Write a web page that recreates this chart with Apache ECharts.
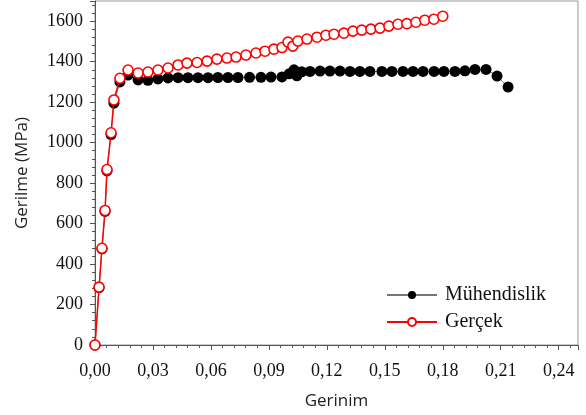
<!DOCTYPE html>
<html>
<head>
<meta charset="utf-8">
<script src="https://cdn.jsdelivr.net/npm/echarts@6/dist/echarts.min.js"></script>
<style>html,body{margin:0;padding:0;background:#fff}#c{width:586px;height:415px}</style>
</head>
<body>
<div id="c"></div>
<script>
// Engineering (Mühendislik) stress-strain
const engX = [0, 0.0021, 0.0036, 0.0052, 0.0062, 0.0083, 0.0098, 0.0129, 0.0171, 0.0223, 0.0274, 0.0326, 0.0378, 0.0430, 0.0481, 0.0533, 0.0585, 0.0636, 0.0688, 0.0740, 0.0800, 0.0859, 0.0911, 0.0968, 0.1005, 0.1030, 0.1045, 0.1070, 0.1113, 0.1165, 0.1216, 0.1268, 0.1320, 0.1371, 0.1423, 0.1485, 0.1537, 0.1594, 0.1646, 0.1698, 0.1755, 0.1806, 0.1863, 0.1915, 0.1967, 0.2024, 0.2081, 0.2138];
const engY = [0, 283, 475, 660, 860, 1040, 1195, 1300, 1334, 1310, 1308, 1315, 1320, 1321, 1321, 1321, 1321, 1322, 1322, 1322, 1323, 1323, 1324, 1325, 1340, 1360, 1330, 1350, 1352, 1354, 1354, 1354, 1352, 1352, 1352, 1352, 1352, 1352, 1352, 1352, 1352, 1352, 1352, 1355, 1362, 1362, 1329, 1275];
// True (Gerçek) stress-strain
const trueX = [0, 0.0021, 0.0036, 0.0052, 0.0062, 0.0083, 0.0098, 0.0129, 0.0171, 0.0223, 0.0274, 0.0326, 0.0378, 0.0430, 0.0476, 0.0528, 0.0580, 0.0631, 0.0683, 0.0730, 0.0781, 0.0833, 0.0880, 0.0926, 0.0968, 0.0999, 0.1024, 0.1050, 0.1097, 0.1149, 0.1195, 0.1237, 0.1288, 0.1335, 0.1381, 0.1428, 0.1475, 0.1521, 0.1568, 0.1614, 0.1661, 0.1707, 0.1754, 0.1800];
const trueY = [0, 286, 478, 665, 867, 1049, 1211, 1318, 1359, 1344, 1349, 1359, 1369, 1384, 1393, 1396, 1403, 1413, 1418, 1423, 1433, 1443, 1452, 1462, 1470, 1497, 1477, 1502, 1512, 1521, 1531, 1536, 1541, 1551, 1556, 1561, 1566, 1576, 1585, 1588, 1595, 1605, 1610, 1625];
const xTicks = ['0,00','0,03','0,06','0,09','0,12','0,15','0,18','0,21','0,24'];
const yTicks = ['0','200','400','600','800','1000','1200','1400','1600'];
const seriesNames = ['Mühendislik', 'Gerçek'];

const chart = echarts.init(document.getElementById('c'), null, {renderer: 'canvas'});
const serif = 'Liberation Serif';
const sans = 'Open Sans';
chart.setOption({
  animation: false,
  backgroundColor: '#fff',
  grid: {left: 95, right: 8, top: 1, bottom: 70, show: true, borderColor: '#999', borderWidth: 1, containLabel: false},
  legend: {
    orient: 'vertical', left: 381, top: 280, itemWidth: 50, itemHeight: 10, itemGap: 7,
    data: seriesNames,
    textStyle: {fontFamily: serif, fontSize: 20, color: '#111', padding: [0, 0, 0, 3]}
  },
  xAxis: {
    type: 'value', min: 0, max: 0.25, interval: 0.03,
    name: 'Gerinim', nameLocation: 'middle', nameGap: 48,
    nameTextStyle: {fontFamily: sans, fontSize: 17, color: '#222'},
    axisLine: {show: true, onZero: false, lineStyle: {color: '#555', width: 1}},
    axisTick: {show: true, inside: false, length: 5, lineStyle: {color: '#555'}},
    minorTick: {show: true, splitNumber: 5, length: 3, lineStyle: {color: '#555'}},
    splitLine: {show: false},
    axisLabel: {
      fontFamily: serif, fontSize: 18, color: '#111', margin: 17,
      formatter: function (v) { const i = Math.round(v / 0.03); return Math.abs(v - i * 0.03) < 1e-6 && i < xTicks.length ? xTicks[i] : ''; }
    }
  },
  yAxis: {
    type: 'value', min: 0, max: 1700, interval: 200,
    name: 'Gerilme (MPa)', nameLocation: 'middle', nameGap: 64,
    nameTextStyle: {fontFamily: sans, fontSize: 17, color: '#222'},
    axisLine: {show: true, onZero: false, lineStyle: {color: '#555', width: 1}},
    axisTick: {show: true, inside: false, length: 5, lineStyle: {color: '#555'}},
    minorTick: {show: true, splitNumber: 5, length: 3, lineStyle: {color: '#555'}},
    splitLine: {show: false},
    axisLabel: {
      fontFamily: serif, fontSize: 18, color: '#111', margin: 12,
      formatter: function (v) { const i = Math.round(v / 200); return Math.abs(v - i * 200) < 1e-6 && i < yTicks.length ? yTicks[i] : ''; }
    }
  },
  series: [
    {
      name: seriesNames[0], type: 'line', data: engX.map((x, i) => [x, engY[i]]),
      symbol: 'circle', symbolSize: 11, showAllSymbol: true,
      itemStyle: {color: '#000'}, lineStyle: {color: '#777', width: 1}, z: 2
    },
    {
      name: seriesNames[1], type: 'line', data: trueX.map((x, i) => [x, trueY[i]]),
      symbol: 'circle', symbolSize: 10, showAllSymbol: true,
      itemStyle: {color: '#fff', borderColor: '#ff0000', borderWidth: 1.6}, lineStyle: {color: '#ff0000', width: 1.5}, z: 3
    }
  ]
});
</script>
</body>
</html>
